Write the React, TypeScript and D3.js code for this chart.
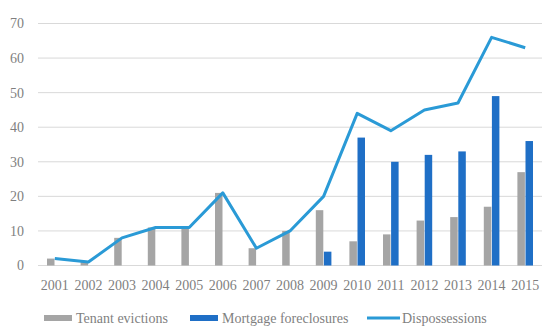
import React, { useRef, useEffect } from 'react';
import * as d3 from 'd3';

const years = ['2001', '2002', '2003', '2004', '2005', '2006', '2007', '2008', '2009', '2010', '2011', '2012', '2013', '2014', '2015'];
const tenantEvictions = [2, 1, 8, 11, 11, 21, 5, 10, 16, 7, 9, 13, 14, 17, 27];
const mortgageForeclosures = [0, 0, 0, 0, 0, 0, 0, 0, 4, 37, 30, 32, 33, 49, 36];
const dispossessions = [2, 1, 8, 11, 11, 21, 5, 10, 20, 44, 39, 45, 47, 66, 63];
const yTicks = [0, 10, 20, 30, 40, 50, 60, 70];

const W = 550;
const H = 333;
const FONT = '"Liberation Serif", serif';

const App: React.FC = () => {
  const ref = useRef<SVGSVGElement>(null);

  useEffect(() => {
    const svg = d3.select(ref.current);
    svg.selectAll('*').remove();

    const x = d3.scaleBand().domain(years).range([38, 542]);
    const y = d3.scaleLinear().domain([0, 70]).range([265.5, 23.5]);
    const barW = 7.5;

    // gridlines
    svg
      .append('g')
      .selectAll('line')
      .data(yTicks)
      .enter()
      .append('line')
      .attr('x1', 38)
      .attr('x2', 542)
      .attr('y1', (d) => y(d))
      .attr('y2', (d) => y(d))
      .attr('stroke', '#d9d9d9')
      .attr('stroke-width', 1);

    // y labels
    svg
      .append('g')
      .selectAll('text')
      .data(yTicks)
      .enter()
      .append('text')
      .attr('x', 24)
      .attr('y', (d) => y(d))
      .attr('dy', '0.35em')
      .attr('text-anchor', 'end')
      .attr('font-family', FONT)
      .attr('font-size', 14)
      .attr('fill', '#7f7f7f')
      .text((d) => d);

    const center = (yr: string) => (x(yr) as number) + x.bandwidth() / 2;

    // tenant bars
    svg
      .append('g')
      .selectAll('rect')
      .data(years)
      .enter()
      .append('rect')
      .attr('x', (d) => center(d) - barW - 0.3)
      .attr('width', barW)
      .attr('y', (d, i) => y(tenantEvictions[i]))
      .attr('height', (d, i) => y(0) - y(tenantEvictions[i]))
      .attr('fill', '#a5a5a5');

    // mortgage bars
    svg
      .append('g')
      .selectAll('rect')
      .data(years)
      .enter()
      .append('rect')
      .attr('x', (d) => center(d) + 0.3)
      .attr('width', barW)
      .attr('y', (d, i) => y(mortgageForeclosures[i]))
      .attr('height', (d, i) => y(0) - y(mortgageForeclosures[i]))
      .attr('fill', '#1f6fc6');

    // dispossessions line
    const line = d3
      .line<number>()
      .x((d, i) => center(years[i]))
      .y((d) => y(d));
    svg
      .append('path')
      .datum(dispossessions)
      .attr('d', line)
      .attr('fill', 'none')
      .attr('stroke', '#2a9ad6')
      .attr('stroke-width', 3)
      .attr('stroke-linejoin', 'round');

    // x labels
    svg
      .append('g')
      .selectAll('text')
      .data(years)
      .enter()
      .append('text')
      .attr('x', (d) => center(d))
      .attr('y', 290)
      .attr('text-anchor', 'middle')
      .attr('font-family', FONT)
      .attr('font-size', 14)
      .attr('fill', '#7f7f7f')
      .text((d) => d);

    // legend
    const legend = svg.append('g').attr('font-family', FONT).attr('font-size', 14).attr('fill', '#7f7f7f');
    legend.append('rect').attr('x', 44).attr('y', 315).attr('width', 28).attr('height', 6).attr('fill', '#a5a5a5');
    legend.append('text').attr('x', 76).attr('y', 322.5).text('Tenant evictions');
    legend.append('rect').attr('x', 190).attr('y', 315).attr('width', 28).attr('height', 6).attr('fill', '#1f6fc6');
    legend.append('text').attr('x', 222).attr('y', 322.5).text('Mortgage foreclosures');
    legend
      .append('line')
      .attr('x1', 367)
      .attr('x2', 400)
      .attr('y1', 318)
      .attr('y2', 318)
      .attr('stroke', '#2a9ad6')
      .attr('stroke-width', 3);
    legend.append('text').attr('x', 402).attr('y', 322.5).text('Dispossessions');
  }, []);

  return (
    <svg
      ref={ref}
      width={W}
      height={H}
      style={{ position: 'absolute', left: 0, top: 0, background: '#fff' }}
    />
  );
};

export default App;
